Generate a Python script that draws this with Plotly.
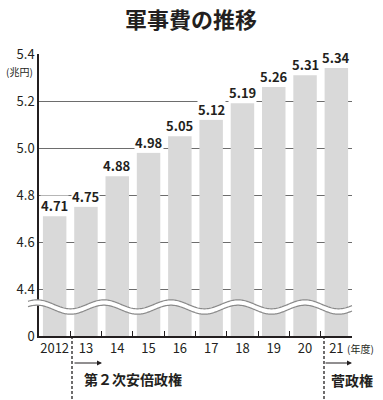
import numpy as np
import plotly.graph_objects as go

# ---- data ----
years = ["2012", "13", "14", "15", "16", "17", "18", "19", "20", "21"]
spending = [4.71, 4.75, 4.88, 4.98, 5.05, 5.12, 5.19, 5.26, 5.31, 5.34]
y_tickvals = [4.2, 4.4, 4.6, 4.8, 5.0, 5.2, 5.4]
y_ticktext = ["0", "4.4", "4.6", "4.8", "5.0", "5.2", "5.4"]
title_text = "軍事費の推移"
unit_text = "(兆円)"
xunit_text = "(年度)"
era1 = "第２次安倍政権"
era2 = "菅政権"
AXIS_BASE = 4.2

# ---- layout geometry ----
W, H = 383, 400
L, R, T, B = 39, 31, 54, 64
PW, PH = W - L - R, H - T - B
FONT = "Noto Sans CJK JP"
INK = "#231f20"


def px(x):
    return (x - L) / PW


def py(y):
    return (H - B - y) / PH


fig = go.Figure()
fig.add_trace(go.Bar(
    x=years, y=[v - AXIS_BASE for v in spending], base=AXIS_BASE,
    marker=dict(color="#d9d9d9", line=dict(width=0)),
    hoverinfo="skip",
))

annotations = []
for i, v in enumerate(spending):
    annotations.append(dict(
        x=i, y=v, xref="x", yref="y", text=f"<b>{v:.2f}</b>",
        showarrow=False, xanchor="center", yanchor="bottom", yshift=0,
        font=dict(family=FONT, size=13, color=INK),
        bgcolor="white", borderpad=0,
    ))


def label(xc, yc, text, size, anchor="center"):
    return dict(x=px(xc), y=py(yc), xref="paper", yref="paper", text=text,
                showarrow=False, xanchor=anchor, yanchor="middle",
                font=dict(family=FONT, size=size, color=INK))


annotations += [
    label(191, 18, f"<b>{title_text}</b>", 22),
    label(19, 71, unit_text, 10),
    label(345, 348, xunit_text, 10, anchor="left"),
    label(133, 379, f"<b>{era1}</b>", 14),
    label(352, 380, f"<b>{era2}</b>", 14),
    dict(x=px(102), y=py(363), xref="paper", yref="paper", text="",
         showarrow=True, ax=-29, ay=0, arrowhead=2, arrowsize=1, arrowwidth=1,
         arrowcolor=INK, standoff=0),
    dict(x=px(352), y=py(363), xref="paper", yref="paper", text="",
         showarrow=True, ax=-28, ay=0, arrowhead=2, arrowsize=1, arrowwidth=1,
         arrowcolor=INK, standoff=0),
]

# wave break
xs = np.arange(28, 353, 1.0)
yc = 307 - 4.5 * np.cos(2 * np.pi * (xs - 37) / 67)
up = yc - 2.7
lo = yc + 2.7


def path_from(xa, ya, close=False):
    pts = [f"{px(a):.5f},{py(b):.5f}" for a, b in zip(xa, ya)]
    s = "M" + " L".join(pts)
    return s + (" Z" if close else "")


band = path_from(np.concatenate([xs, xs[::-1]]), np.concatenate([up, lo[::-1]]), close=True)
shapes = [
    dict(type="path", path=band, xref="paper", yref="paper",
         fillcolor="white", line=dict(width=0)),
    dict(type="path", path=path_from(xs, up), xref="paper", yref="paper",
         line=dict(color="#8a8a8a", width=1.2)),
    dict(type="path", path=path_from(xs, lo), xref="paper", yref="paper",
         line=dict(color="#8a8a8a", width=1.2)),
    dict(type="line", xref="paper", yref="paper", x0=px(72), x1=px(72), y0=0, y1=py(402),
         line=dict(color=INK, width=1.3, dash="3px,2px")),
    dict(type="line", xref="paper", yref="paper", x0=px(324), x1=px(324), y0=0, y1=py(402),
         line=dict(color=INK, width=1.3, dash="3px,2px")),
]

fig.update_layout(
    width=W, height=H, margin=dict(l=L, r=R, t=T, b=B),
    paper_bgcolor="white", plot_bgcolor="white",
    showlegend=False, bargap=0.25,
    font=dict(family=FONT, color=INK),
    annotations=annotations, shapes=shapes,
    xaxis=dict(
        type="category", tickson="boundaries", ticks="inside", ticklen=5,
        tickwidth=1.3, tickcolor=INK, showline=True, linecolor=INK, linewidth=1.5,
        showgrid=False, tickfont=dict(family=FONT, size=13, color=INK),
        tickangle=0, range=[-0.5, 9.5], fixedrange=True,
    ),
    yaxis=dict(
        range=[4.2, 5.4001], tickvals=y_tickvals, ticktext=y_ticktext,
        showline=True, linecolor=INK, linewidth=1.5, ticks="",
        showgrid=True, gridcolor="#6d6d6d", gridwidth=1, zeroline=False,
        tickfont=dict(family=FONT, size=13, color=INK), fixedrange=True,
    ),
)

fig.write_html("out.html", config={"displayModeBar": False})
